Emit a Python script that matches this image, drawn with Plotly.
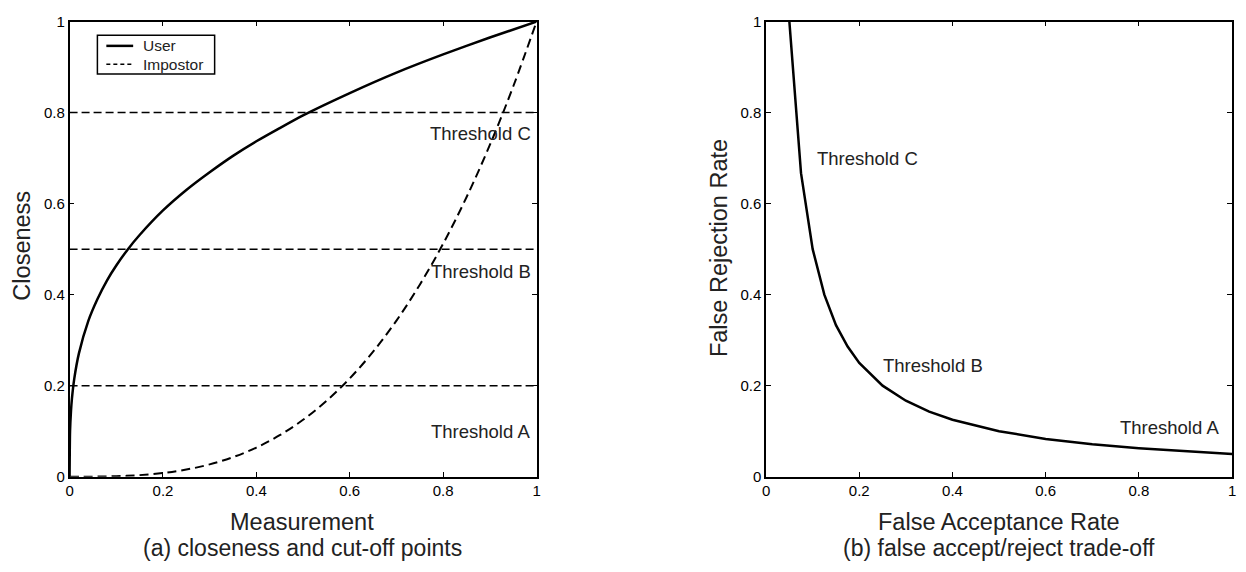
import plotly.graph_objects as go

# ---- data ----
measurement = [0, 0.001, 0.003, 0.005, 0.01, 0.02, 0.04, 0.06, 0.08, 0.1, 0.125, 0.15, 0.2, 0.25,
               0.3, 0.35, 0.4, 0.45, 0.5, 0.6, 0.7, 0.8, 0.9, 1.0]
user_closeness = [0, 0.10, 0.144, 0.171, 0.215, 0.271, 0.342, 0.391, 0.431, 0.464, 0.50, 0.531,
                  0.585, 0.630, 0.669, 0.705, 0.737, 0.766, 0.794, 0.843, 0.888, 0.928, 0.965, 1.0]
imp_measurement = [0, 0.05, 0.1, 0.15, 0.2, 0.25, 0.3, 0.35, 0.4, 0.45, 0.5, 0.55, 0.6, 0.65,
                   0.7, 0.75, 0.8, 0.85, 0.9, 0.95, 1.0]
impostor_closeness = [0, 0.0001, 0.001, 0.0034, 0.008, 0.0156, 0.027, 0.0429, 0.064, 0.0911, 0.125,
                      0.1664, 0.216, 0.2746, 0.343, 0.4219, 0.512, 0.6141, 0.729, 0.8574, 1.0]
thresholds = [0.2, 0.5, 0.8]
threshold_labels = ["Threshold A", "Threshold B", "Threshold C"]
label_pos_a = [(0.88, 0.10), (0.88, 0.45), (0.88, 0.755)]

far = [0.05, 0.075, 0.1, 0.125, 0.15, 0.175, 0.2, 0.25, 0.3, 0.35, 0.4, 0.5, 0.6, 0.7, 0.8, 0.9, 1.0]
frr = [1.0, 0.667, 0.5, 0.4, 0.333, 0.286, 0.25, 0.2, 0.167, 0.143, 0.125, 0.1, 0.083, 0.071,
       0.0625, 0.056, 0.05]
label_pos_b = [(0.865, 0.107), (0.358, 0.245), (0.218, 0.70)]

legend_names = ["User", "Impostor"]
ticks = [0, 0.2, 0.4, 0.6, 0.8, 1]

FONT = "Liberation Sans, Arial, sans-serif"
W, H = 1246, 572
DASH_THR = "8px,4px"
DASH_IMP = "9px,5px"

def px_x(p):
    return p / W

def px_y(p):
    return 1 - p / H

fig = go.Figure()

fig.add_trace(go.Scatter(x=measurement, y=user_closeness, mode="lines", name=legend_names[0],
                         line=dict(color="black", width=2.5, shape="spline", smoothing=0.6),
                         showlegend=False, xaxis="x", yaxis="y"))
fig.add_trace(go.Scatter(x=imp_measurement, y=impostor_closeness, mode="lines", name=legend_names[1],
                         line=dict(color="black", width=2, dash=DASH_IMP, shape="spline"),
                         showlegend=False, xaxis="x", yaxis="y"))
for t in thresholds:
    fig.add_trace(go.Scatter(x=[0, 1], y=[t, t], mode="lines", showlegend=False,
                             line=dict(color="black", width=1.5, dash=DASH_THR),
                             xaxis="x", yaxis="y"))

fig.add_trace(go.Scatter(x=far, y=frr, mode="lines", showlegend=False,
                         line=dict(color="black", width=2.5),
                         xaxis="x2", yaxis="y2"))

annotations = []
for lab, (xx, yy) in zip(threshold_labels, label_pos_a):
    annotations.append(dict(x=xx, y=yy, xref="x", yref="y", text=lab, showarrow=False,
                            font=dict(family=FONT, size=18.5, color="#222")))
for lab, (xx, yy) in zip(threshold_labels, label_pos_b):
    annotations.append(dict(x=xx, y=yy, xref="x2", yref="y2", text=lab, showarrow=False,
                            font=dict(family=FONT, size=18.5, color="#222")))

def txt(x, y, text, size, angle=0, xanchor="center"):
    annotations.append(dict(x=px_x(x), y=px_y(y), xref="paper", yref="paper", text=text,
                            showarrow=False, textangle=angle, xanchor=xanchor, yanchor="middle",
                            font=dict(family=FONT, size=size, color="#222")))

txt(18, 244, "Closeness", 23.5, -90)
txt(300, 529, "Measurement", 23.5)
txt(300, 555, "(a) closeness and cut-off points", 23)
txt(719, 246, "False Rejection Rate", 23.5, -90)
txt(1001, 529, "False Acceptance Rate", 23.5)
txt(1001, 555, "(b) false accept/reject trade-off", 23)

# legend box (drawn in paper space)
shapes = [dict(type="rect", xref="paper", yref="paper",
               x0=px_x(94), x1=px_x(212), y0=px_y(67), y1=px_y(27),
               line=dict(color="black", width=1.5), fillcolor="white", layer="above")]
legend_rows = [38, 57]
legend_dash = ["solid", "4px,3px"]
legend_w = [2.5, 1.5]
for name, ry, d, lw in zip(legend_names, legend_rows, legend_dash, legend_w):
    shapes.append(dict(type="line", xref="paper", yref="paper",
                       x0=px_x(103), x1=px_x(130), y0=px_y(ry), y1=px_y(ry),
                       line=dict(color="black", width=lw, dash=d), layer="above"))
    txt(138, ry, name, 15.5, xanchor="left")

axis_common = dict(range=[0, 1], tickvals=ticks, ticks="inside", ticklen=5, tickwidth=1,
                   tickcolor="black", showline=True, linecolor="black", linewidth=1.5,
                   mirror="ticks", showgrid=False, zeroline=False,
                   tickfont=dict(family=FONT, size=15, color="black"))

ydom = [px_y(482), px_y(13)]
fig.update_layout(
    width=W, height=H,
    margin=dict(l=0, r=0, t=0, b=0),
    plot_bgcolor="white", paper_bgcolor="white",
    xaxis=dict(domain=[px_x(66), px_x(536)], anchor="y", **axis_common),
    yaxis=dict(domain=ydom, anchor="x", **axis_common),
    xaxis2=dict(domain=[px_x(767), px_x(1236)], anchor="y2", **axis_common),
    yaxis2=dict(domain=ydom, anchor="x2", **axis_common),
    showlegend=False,
    shapes=shapes,
    annotations=annotations,
)

fig.write_html("out.html", config={"displayModeBar": False},
               post_script="document.body.style.margin='0';document.body.style.overflow='hidden';")
